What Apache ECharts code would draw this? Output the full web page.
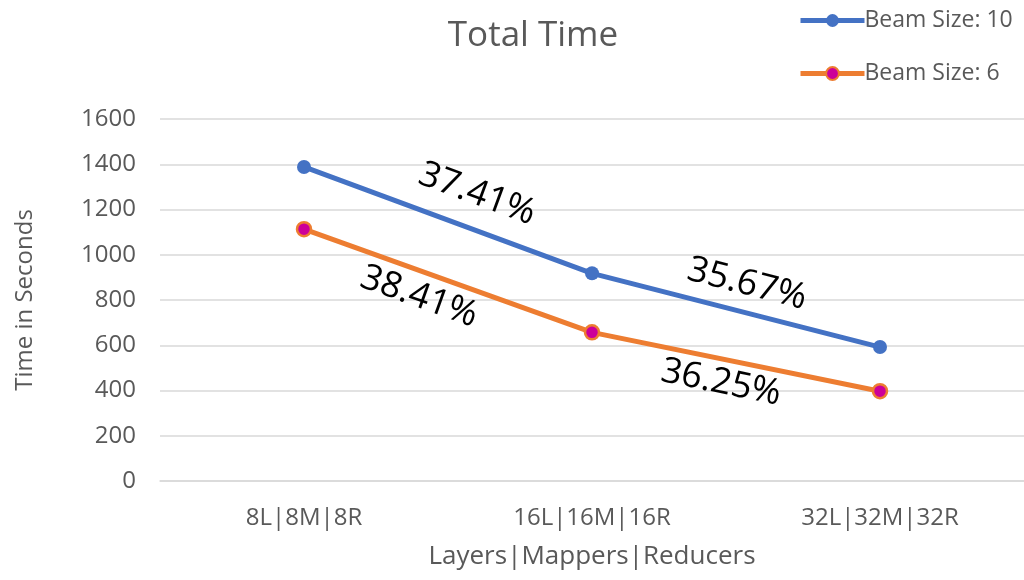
<!DOCTYPE html>
<html>
<head>
<meta charset="utf-8">
<style>
  html, body { margin: 0; padding: 0; background: #ffffff; }
  #chart { width: 1024px; height: 580px; }
</style>
<script src="https://cdn.jsdelivr.net/npm/echarts@6/dist/echarts.min.js"></script>
</head>
<body>
<div id="chart"></div>
<script>
// Run configurations on the x axis
const categories = ['8L|8M|8R', '16L|16M|16R', '32L|32M|32R'];
// Total time in seconds per configuration
const beam10 = [1388, 918, 592];
const beam6 = [1113, 657, 397];
// Reduction between consecutive configurations
const beam10Drops = ['37.41%', '35.67%'];
const beam6Drops = ['38.41%', '36.25%'];

const FONT = '"Open Sans", Lato, sans-serif';
const GREY = '#595959';

const chart = echarts.init(document.getElementById('chart'));

chart.setOption({
  backgroundColor: '#ffffff',
  animation: false,
  title: {
    text: 'Total Time',
    left: 528,
    textAlign: 'center',
    top: 14,
    textStyle: { fontFamily: FONT, fontSize: 35, fontWeight: 'normal', color: GREY }
  },
  legend: {
    orient: 'vertical',
    left: 793,
    top: 4,
    itemWidth: 64,
    itemHeight: 16,
    itemGap: 30,
    lineStyle: { width: 5 },
    textStyle: { fontFamily: FONT, fontSize: 23, color: GREY, padding: [0, 0, 0, -5] },
    data: ['Beam Size: 10', 'Beam Size: 6']
  },
  grid: { left: 160, right: 0, top: 119, bottom: 99, outerBoundsMode: 'none' },
  xAxis: {
    type: 'category',
    data: categories,
    boundaryGap: true,
    name: 'Layers|Mappers|Reducers',
    nameLocation: 'middle',
    nameGap: 63,
    nameTextStyle: { fontFamily: FONT, fontSize: 26, color: GREY },
    axisLine: { show: true, lineStyle: { color: '#d9d9d9', width: 1.5 } },
    axisTick: { show: false },
    axisLabel: { fontFamily: FONT, fontSize: 24, color: GREY, margin: 25 }
  },
  yAxis: {
    type: 'value',
    min: 0,
    max: 1600,
    interval: 200,
    name: 'Time in Seconds',
    nameLocation: 'middle',
    nameGap: 123,
    nameTextStyle: { fontFamily: FONT, fontSize: 24, color: GREY },
    axisLine: { show: false },
    axisTick: { show: false },
    axisLabel: {
      fontFamily: FONT, fontSize: 24, color: GREY, margin: 24,
      formatter: function (v) { return String(v); }
    },
    splitLine: { lineStyle: { color: '#d9d9d9', width: 1.5 } }
  },
  series: [
    {
      name: 'Beam Size: 10',
      type: 'line',
      data: beam10,
      symbol: 'circle',
      symbolSize: 14,
      lineStyle: { color: '#4472C4', width: 5 },
      itemStyle: { color: '#4472C4', borderColor: '#4472C4', borderWidth: 0 },
      z: 3
    },
    {
      name: 'Beam Size: 6',
      type: 'line',
      data: beam6,
      symbol: 'circle',
      symbolSize: 14,
      lineStyle: { color: '#ED7D31', width: 5 },
      itemStyle: { color: '#CC0099', borderColor: '#ED7D31', borderWidth: 2.5 },
      z: 3
    }
  ]
});

// Percentage annotations sit beside each segment, rotated along its slope
function segmentLabels(seriesIndex, values, texts, offsets) {
  const out = [];
  for (let i = 0; i < texts.length; i++) {
    const a = chart.convertToPixel({ seriesIndex: seriesIndex }, [i, values[i]]);
    const b = chart.convertToPixel({ seriesIndex: seriesIndex }, [i + 1, values[i + 1]]);
    const mx = (a[0] + b[0]) / 2;
    const my = (a[1] + b[1]) / 2;
    const angle = Math.atan2(b[1] - a[1], b[0] - a[0]);
    const n = offsets[i];
    out.push({
      type: 'text',
      x: mx + n[0],
      y: my + n[1],
      rotation: -angle,
      z: 10,
      style: {
        text: texts[i],
        fontFamily: FONT,
        fontSize: 36,
        fill: '#000000',
        textAlign: 'center',
        textVerticalAlign: 'middle'
      }
    });
  }
  return out;
}

chart.setOption({
  graphic: [].concat(
    segmentLabels(0, beam10, beam10Drops, [[29, -26], [11, -26]]),
    segmentLabels(1, beam6, beam6Drops, [[-29, 16], [-15, 21]])
  )
});
</script>
</body>
</html>
